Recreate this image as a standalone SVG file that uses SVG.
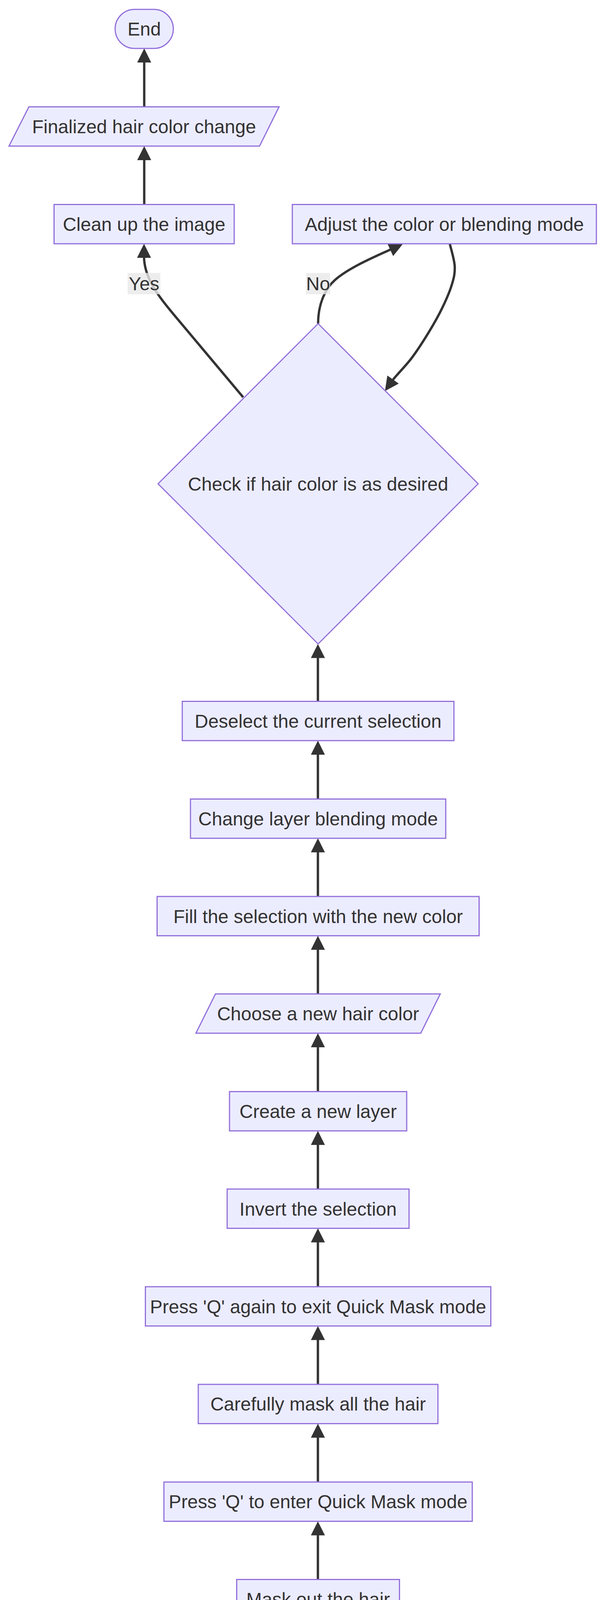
<svg xmlns="http://www.w3.org/2000/svg" width="1568" height="4716" viewBox="0 0 1568 4716">
<defs>
<style>
.n rect, .n polygon { fill:#ECECFF; stroke:#9370DB; stroke-width:3; }
.t { font-family:"Liberation Sans", Arial, sans-serif; font-size:48px; fill:#333333; text-anchor:middle; }
.e { fill:none; stroke:#333333; stroke-width:6; }
.lb { fill:#e8e8e8; opacity:0.8; }
</style>
<marker id="arr" viewBox="0 0 10 10" refX="1" refY="5" markerWidth="36" markerHeight="36" markerUnits="userSpaceOnUse" orient="auto">
<path d="M0,0 L10,5 L0,10 z" fill="#333333"/>
</marker>
</defs>
<rect x="0" y="0" width="1568" height="4716" fill="#ffffff"/>
<g id="connectors">
<path class="e" marker-end="url(#arr)" d="M814.5,4543 V4426"/>
<path class="e" marker-end="url(#arr)" d="M814.5,4293 V4176.5"/>
<path class="e" marker-end="url(#arr)" d="M814.5,4043.5 V3927"/>
<path class="e" marker-end="url(#arr)" d="M814.5,3794 V3677"/>
<path class="e" marker-end="url(#arr)" d="M814.5,3544 V3427"/>
<path class="e" marker-end="url(#arr)" d="M814.5,3294 V3177"/>
<path class="e" marker-end="url(#arr)" d="M814.5,3044 V2927.5"/>
<path class="e" marker-end="url(#arr)" d="M814.5,2794.5 V2677.5"/>
<path class="e" marker-end="url(#arr)" d="M814.5,2544.5 V2428"/>
<path class="e" marker-end="url(#arr)" d="M814.5,2295 V2178.5"/>
<path class="e" marker-end="url(#arr)" d="M814.5,2045.5 V1928.5"/>
<path class="e" marker-end="url(#arr)" d="M814.5,1795.5 V1681"/>
<path class="e" marker-end="url(#arr)" d="M623,1017 L445,805 C418,772 369,718 369,656.5"/>
<path class="e" marker-end="url(#arr)" d="M815,828.5 C815,775 835.5,736.8 858,717 C895.5,684 966.5,654.4 1002.9,637.8"/>
<path class="e" marker-end="url(#arr)" d="M1152.5,624.5 C1154.6,634 1164.1,664.2 1165,681.4 C1165.9,698.6 1163.3,710 1157.9,727.9 C1152.6,745.8 1143,767.8 1132.9,788.6 C1122.8,809.4 1110.2,831.5 1097.1,852.9 C1084,874.3 1069.7,896.8 1054.3,917.1 C1039,937.4 1013.7,962.2 1005,974.5"/>
<path class="e" marker-end="url(#arr)" d="M369.5,523.5 V406.5"/>
<path class="e" marker-end="url(#arr)" d="M369.5,273.5 V156.5"/>
<g id="label-yes">
<rect class="lb" x="327" y="698.7" width="84" height="54.6"/>
<text class="t" x="369" y="743">Yes</text>
</g>
<g id="label-no">
<rect class="lb" x="784" y="698.7" width="62" height="54.6"/>
<text class="t" x="815" y="743">No</text>
</g>
</g>
<g id="nodes">
<g id="end" class="n"><rect x="295" y="24" width="149" height="100" rx="50" ry="50"/><text class="t" x="369.5" y="91">End</text></g>
<g id="finalized" class="n"><polygon points="74,273.5 715,273.5 665,374 23,374"/><text class="t" x="369" y="341">Finalized hair color change</text></g>
<g id="cleanup" class="n"><rect x="138.5" y="523.5" width="461.5" height="100.5"/><text class="t" x="369.25" y="591">Clean up the image</text></g>
<g id="adjust" class="n"><rect x="749" y="523.5" width="779" height="100.5"/><text class="t" x="1138.5" y="591">Adjust the color or blending mode</text></g>
<g id="check" class="n"><polygon points="815,828.5 1225,1238.5 815,1648.5 405,1238.5"/><text class="t" x="815" y="1255.5">Check if hair color is as desired</text></g>
<g id="deselect" class="n"><rect x="467" y="1795.5" width="696" height="100.5"/><text class="t" x="815" y="1863">Deselect the current selection</text></g>
<g id="blending" class="n"><rect x="488" y="2045.5" width="654" height="100.5"/><text class="t" x="815" y="2113">Change layer blending mode</text></g>
<g id="fill" class="n"><rect x="402.5" y="2295" width="825" height="100.5"/><text class="t" x="815" y="2362.5">Fill the selection with the new color</text></g>
<g id="choose" class="n"><polygon points="552,2544.5 1128,2544.5 1078,2645 502,2645"/><text class="t" x="815" y="2612">Choose a new hair color</text></g>
<g id="newlayer" class="n"><rect x="588" y="2794.5" width="454" height="100.5"/><text class="t" x="815" y="2862">Create a new layer</text></g>
<g id="invert" class="n"><rect x="582" y="3044" width="466" height="100.5"/><text class="t" x="815" y="3111.5">Invert the selection</text></g>
<g id="exitmask" class="n"><rect x="372.5" y="3294" width="885" height="100.5"/><text class="t" x="815" y="3361.5">Press 'Q' again to exit Quick Mask mode</text></g>
<g id="carefully" class="n"><rect x="508" y="3544" width="614" height="100.5"/><text class="t" x="815" y="3611">Carefully mask all the hair</text></g>
<g id="entermask" class="n"><rect x="420" y="3794" width="790" height="100.5"/><text class="t" x="815" y="3861">Press 'Q' to enter Quick Mask mode</text></g>
<g id="maskout" class="n"><rect x="606.5" y="4043.5" width="417" height="100.5"/><text class="t" x="815" y="4110.5">Mask out the hair</text></g>
<g id="selectphoto" class="n"><polygon points="562,4293 1118,4293 1068,4393.5 511,4393.5"/><text class="t" x="814.5" y="4360.5">Select a suitable photo</text></g>
<g id="start" class="n"><rect x="727" y="4543" width="176" height="100" rx="50" ry="50"/><text class="t" x="815" y="4610">Start</text></g>
</g>
</svg>
